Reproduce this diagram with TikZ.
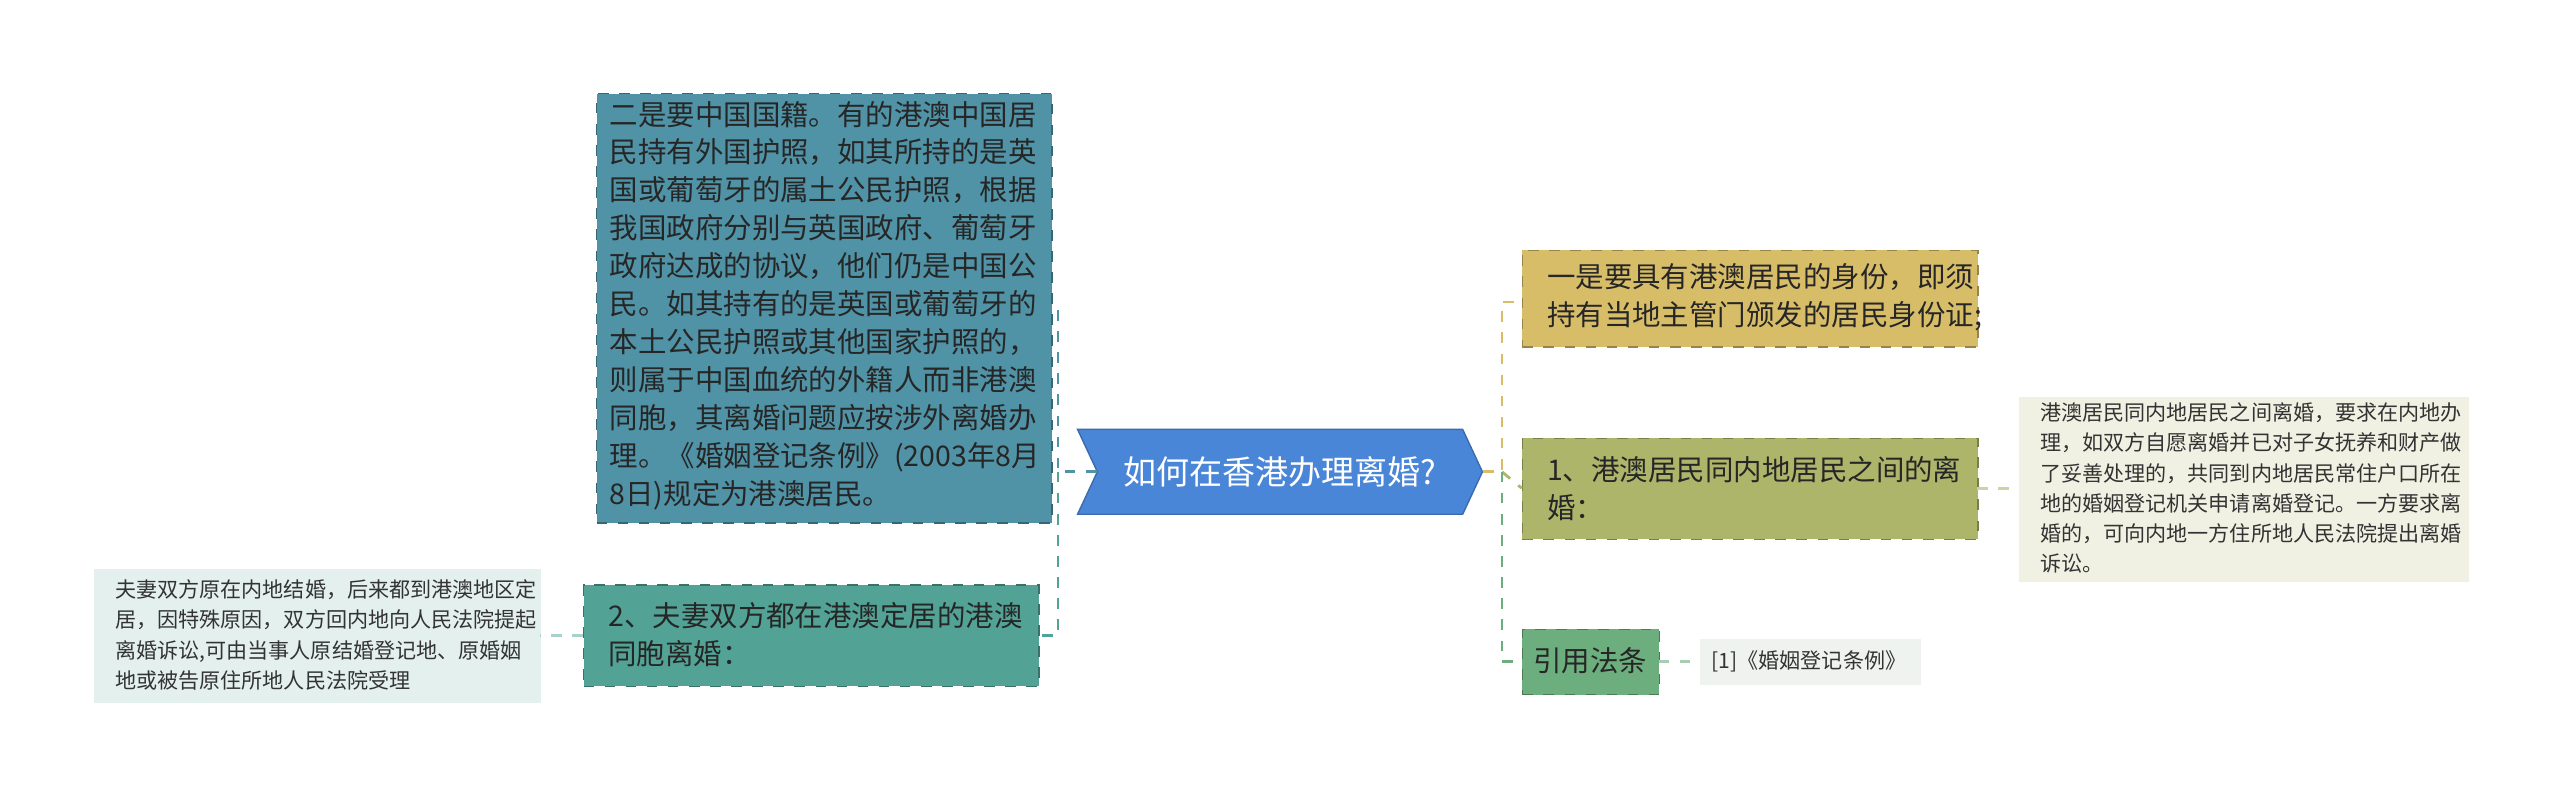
\documentclass[tikz,border=0pt]{standalone}
\usepackage{fontspec}
\setmainfont{Noto Sans CJK SC}
\usetikzlibrary{shapes.symbols}
\newcommand{\px}{0.016327cm}
\definecolor{rootblue}{HTML}{4A86D8}
\definecolor{tealblue}{HTML}{5093A6}
\definecolor{tealgreen}{HTML}{52A396}
\definecolor{paleteal}{HTML}{E3F0EE}
\definecolor{sand}{HTML}{D8BD69}
\definecolor{olive}{HTML}{ADB56A}
\definecolor{leaf}{HTML}{6CAE7E}
\definecolor{paleolive}{HTML}{F1F1E3}
\definecolor{palegreen}{HTML}{EEF3EF}
\begin{document}
\begin{tikzpicture}[x=\px, y=-\px,
topicbox/.style={draw=#1!70!black, dashed, fill=#1, anchor=north west, inner sep=0pt, align=left, font=\fontsize{8.1pt}{10.8pt}\selectfont, text=black!85},
notebox/.style={fill=#1, anchor=north west, inner sep=0pt, align=left, font=\fontsize{6pt}{8.6pt}\selectfont, text=black!80},
link/.style={dashed, thick, draw=#1},
]
\useasboundingbox (0,0) rectangle (1568,486);
%Nodes
\node[signal, signal to=east, signal from=west, signal pointer angle=130, fill=rootblue, draw=rootblue!80!black, text=white, minimum width=248*\px, minimum height=52*\px, inner sep=0pt, font=\fontsize{9.4pt}{11pt}\selectfont] (root) at (784,289) {如何在香港办理离婚?};
\node[topicbox=tealblue, minimum width=279*\px, minimum height=263*\px, text width=263*\px, xshift=8*\px] (nationality) at (357,57) {\vphantom{x}\\[-10pt]二是要中国国籍。有的港澳中国居\\民持有外国护照，如其所持的是英\\国或葡萄牙的属土公民护照，根据\\我国政府分别与英国政府、葡萄牙\\政府达成的协议，他们仍是中国公\\民。如其持有的是英国或葡萄牙的\\本土公民护照或其他国家护照的，\\则属于中国血统的外籍人而非港澳\\同胞，其离婚问题应按涉外离婚办\\理。《婚姻登记条例》(2003年8月\\8日)规定为港澳居民。};
\node[topicbox=tealgreen, minimum width=279*\px, minimum height=62*\px, text width=263*\px] (both) at (357,358) {};
\node[anchor=west, align=left, font=\fontsize{8.1pt}{10.8pt}\selectfont, text=black!85] at (365,389) {2、夫妻双方都在港澳定居的港澳\\同胞离婚：};
\node[notebox=paleteal, minimum width=274*\px, minimum height=82*\px] (mainland) at (57,348) {};
\node[anchor=west, align=left, font=\fontsize{6pt}{8.6pt}\selectfont, text=black!80] at (63,389) {夫妻双方原在内地结婚，后来都到港澳地区定\\居，因特殊原因，双方回内地向人民法院提起\\离婚诉讼,可由当事人原结婚登记地、原婚姻\\地或被告原住所地人民法院受理};
\node[topicbox=sand, minimum width=279*\px, minimum height=59*\px] (identity) at (932,153) {};
\node[anchor=west, align=left, font=\fontsize{8.1pt}{10.8pt}\selectfont, text=black!85] at (940,182) {一是要具有港澳居民的身份，即须\\持有当地主管门颁发的居民身份证;};
\node[topicbox=olive, minimum width=279*\px, minimum height=62*\px] (cross) at (932,268) {};
\node[anchor=west, align=left, font=\fontsize{8.1pt}{10.8pt}\selectfont, text=black!85] at (940,299) {1、港澳居民同内地居民之间的离\\婚：};
\node[topicbox=leaf, minimum width=84*\px, minimum height=40*\px] (law) at (932,385) {};
\node[font=\fontsize{8.1pt}{10pt}\selectfont, text=black!85] at (974,405) {引用法条};
\node[notebox=paleolive, minimum width=276*\px, minimum height=113*\px] (crossnote) at (1236,243) {};
\node[anchor=west, align=left, font=\fontsize{6pt}{8.6pt}\selectfont, text=black!80] at (1242,299) {港澳居民同内地居民之间离婚，要求在内地办\\理，如双方自愿离婚并已对子女抚养和财产做\\了妥善处理的，共同到内地居民常住户口所在\\地的婚姻登记机关申请离婚登记。一方要求离\\婚的，可向内地一方住所地人民法院提出离婚\\诉讼。};
\node[notebox=palegreen, minimum width=135*\px, minimum height=28*\px] (lawnote) at (1041,391) {};
\node[font=\fontsize{6pt}{8pt}\selectfont, text=black!80] at (1108,405) {[1]《婚姻登记条例》};
%Lines
\coordinate (ltrunk) at (648,289);
\coordinate (rtrunk) at (920,289);
\draw[link=tealblue] (root.west) -- (ltrunk) |- (636,189);
\draw[link=tealgreen] (ltrunk) |- (636,389);
\draw[link=sand] (root.east) -- (rtrunk) |- (932,185);
\draw[link=olive] (rtrunk) -- (932,299);
\draw[link=leaf] (rtrunk) |- (932,405);
\draw[link=tealgreen!50] (357,389) -- (331,389);
\draw[link=olive!60] (1211,299) -- (1236,299);
\draw[link=leaf!60] (1016,405) -- (1041,405);
\end{tikzpicture}
\end{document}
